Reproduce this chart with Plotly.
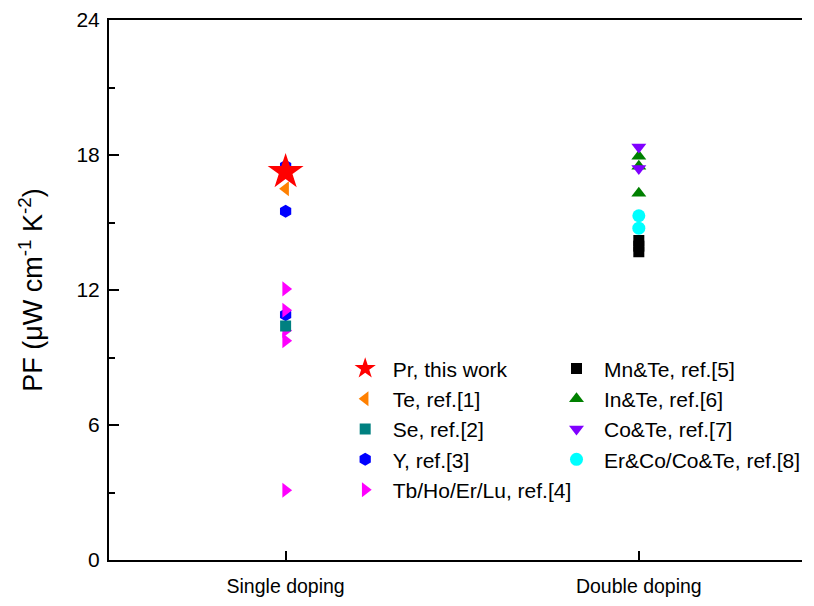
import plotly.graph_objects as go

# ---- data ----
categories = ["Single doping", "Double doping"]
cat_pos = [1, 2]

pr_y = [17.25]
te_y = [16.5]
se_y = [10.4]
y_y = [17.5, 15.5, 10.9]
tb_y = [12.05, 11.1, 10.2, 9.75, 3.1]

mn_y = [14.2, 13.95, 13.7]
in_y = [17.95, 17.5, 16.3]
co_y = [18.35, 17.4]
er_y = [15.3, 14.75]

# (name, values, x-category index, symbol, color, size, legend rank, legend id)
series = [
    ("Y, ref.[3]", y_y, 0, "hexagon", "#0000FF", 13, 4, "legend"),
    ("Tb/Ho/Er/Lu, ref.[4]", tb_y, 0, "triangle-right", "#FF00FF", 13, 5, "legend"),
    ("Se, ref.[2]", se_y, 0, "square", "#008080", 11, 3, "legend"),
    ("Te, ref.[1]", te_y, 0, "triangle-left", "#FF8000", 13, 2, "legend"),
    ("Pr, this work", pr_y, 0, "star", "#FF0000", 27, 1, "legend"),
    ("Mn&Te, ref.[5]", mn_y, 1, "square", "#000000", 11, 6, "legend2"),
    ("Er&Co/Co&Te, ref.[8]", er_y, 1, "circle", "#00FFFF", 13, 9, "legend2"),
    ("In&Te, ref.[6]", in_y, 1, "triangle-up", "#008000", 13, 7, "legend2"),
    ("Co&Te, ref.[7]", co_y, 1, "triangle-down", "#8000FF", 13, 8, "legend2"),
]

fig = go.Figure()
for name, vals, ci, sym, col, sz, rank, lg in series:
    fig.add_trace(go.Scatter(
        x=[cat_pos[ci]] * len(vals), y=vals, mode="markers", name=name,
        marker=dict(symbol=sym, color=col, size=sz, line=dict(width=0)),
        legendrank=rank, legend=lg,
    ))

leg_common = dict(
    orientation="v", traceorder="normal", xanchor="left", yanchor="top",
    font=dict(size=21), bgcolor="rgba(0,0,0,0)", itemsizing="trace", itemwidth=45,
)

fig.update_layout(
    width=798, height=590,
    margin=dict(l=101, r=0, t=9, b=38),
    paper_bgcolor="white", plot_bgcolor="white",
    font=dict(family="Liberation Sans, Arial, sans-serif", color="#000000"),
    showlegend=True,
    legend=dict(x=0.33, y=0.392, **leg_common),
    legend2=dict(x=0.635, y=0.392, **leg_common),
    xaxis=dict(
        range=[0.5, 2.462], tickmode="array", tickvals=cat_pos, ticktext=categories,
        ticks="inside", ticklen=9, tickwidth=1.5, tickcolor="#000",
        showline=True, linecolor="#000", linewidth=2, mirror=True,
        showgrid=False, zeroline=False, tickfont=dict(size=19.5), ticklabelstandoff=8,
        ticklabeloverflow="allow",
    ),
    yaxis=dict(
        range=[0, 24], tickmode="array", tickvals=[0, 6, 12, 18, 24],
        ticks="inside", ticklen=10, tickwidth=1.5, tickcolor="#000",
        minor=dict(tickvals=[3, 9, 15, 21], ticks="inside", ticklen=6, tickwidth=1.5, tickcolor="#000", showgrid=False),
        showline=True, linecolor="#000", linewidth=2, mirror=False,
        showgrid=False, zeroline=False, tickfont=dict(size=21), ticklabelstandoff=3,
        ticklabeloverflow="allow",
        title=dict(text="PF (μW cm<sup>-1</sup> K<sup>-2</sup>)", font=dict(size=27), standoff=26),
    ),
)

fig.write_html("out.html")
